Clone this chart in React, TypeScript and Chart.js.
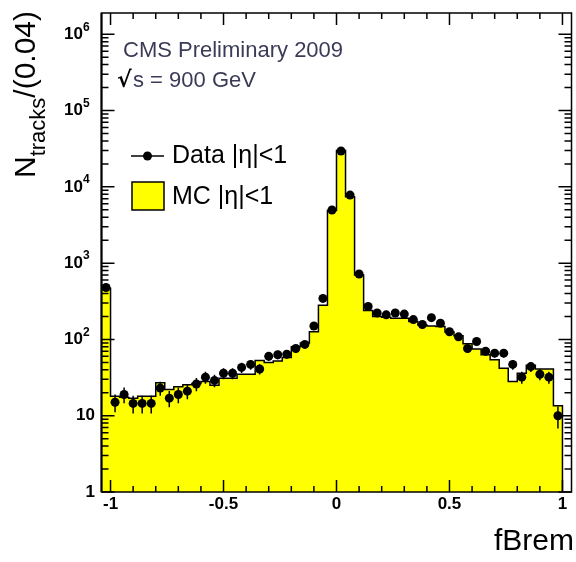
import React, { useEffect, useRef } from 'react';
import { Chart, registerables } from 'chart.js';

Chart.register(...registerables);

// ---- data ----
const binWidth = 0.04;
const binLowEdges = [
  -1.04, -1.0, -0.96, -0.92, -0.88, -0.84, -0.8, -0.76, -0.72, -0.68, -0.64, -0.6, -0.56,
  -0.52, -0.48, -0.44, -0.4, -0.36, -0.32, -0.28, -0.24, -0.2, -0.16, -0.12, -0.08, -0.04,
  0.0, 0.04, 0.08, 0.12, 0.16, 0.2, 0.24, 0.28, 0.32, 0.36, 0.4, 0.44, 0.48, 0.52, 0.56,
  0.6, 0.64, 0.68, 0.72, 0.76, 0.8, 0.84, 0.88, 0.92, 0.96, 1.0,
];
const mcCounts = [
  470, 18, 17.5, 17, 18, 18, 27, 22, 24, 25.5,
  26.5, 28, 25, 31, 31, 35, 35, 53, 50, 52,
  58, 80, 90, 126, 280, 4900, 30000, 7400, 700, 240,
  200, 195, 190, 190, 172, 155, 150, 148, 125, 112,
  88, 75, 63, 54, 42, 28, 36, 46, 41, 41,
  13.5, null,
];
const dataCounts = [
  480, 15, 19, 14.5, 14.5, 14.5, 23, 17, 19, 21,
  26, 32, 29, 36, 36, 43, 47, 41, 60, 63,
  64, 76, 86, 150, 345, 4970, 29500, 7800, 720, 270,
  222, 210, 222, 215, 182, 157, 193, 163, 126, 108,
  76, 94, 70, 66, 66, 47, 32, 44, 35, 32,
  10, null,
];
const dataErrors = [
  22, 3.9, 4.4, 3.8, 3.8, 3.8, 4.8, 4.1, 4.4, 4.6,
  5.1, 5.7, 5.4, 6, 6, 6.6, 6.9, 6.4, 7.7, 7.9,
  8, 8.7, 9.3, 12, 19, 70, 172, 88, 27, 16,
  15, 14.5, 15, 14.7, 13.5, 12.5, 13.9, 12.8, 11.2, 10.4,
  8.7, 9.7, 8.4, 8.1, 8.1, 6.9, 5.7, 6.6, 5.9, 5.7,
  3.2, null,
];
const xTickLabels = ['-1', '-0.5', '0', '0.5', '1'];
const xTickValues = [-1, -0.5, 0, 0.5, 1];
const yDecades = [0, 1, 2, 3, 4, 5, 6];
const xMin = -1.04;
const xMax = 1.04;
const yMin = 1;
const yMax = 1.9e6;

const FONT = '"Liberation Sans", Arial, Helvetica, sans-serif';

const rootPlugin = {
  id: 'rootStyle',
  afterDatasetsDraw(chart: any) {
    const { ctx, chartArea: a, scales } = chart;
    const x = scales.x;
    const y = scales.y;
    ctx.save();
    ctx.beginPath();
    ctx.rect(a.left, a.top, a.right - a.left, a.bottom - a.top);
    ctx.clip();
    ctx.strokeStyle = '#000';
    ctx.lineWidth = 1.5;
    dataCounts.forEach((v, i) => {
      if (v == null) return;
      const e = dataErrors[i] as number;
      const cx = x.getPixelForValue(binLowEdges[i] + binWidth / 2);
      const lo = Math.max(v - e, 0.01);
      ctx.beginPath();
      ctx.moveTo(cx, y.getPixelForValue(lo));
      ctx.lineTo(cx, y.getPixelForValue(v + e));
      ctx.stroke();
    });
    ctx.restore();
  },
  afterDraw(chart: any) {
    const { ctx, chartArea: a, scales } = chart;
    const x = scales.x;
    const y = scales.y;
    ctx.save();
    ctx.strokeStyle = '#000';
    ctx.lineWidth = 1.5;
    // frame
    ctx.strokeRect(a.left, a.top, a.right - a.left, a.bottom - a.top);
    ctx.lineWidth = 2;
    ctx.beginPath();
    ctx.moveTo(a.left, a.top);
    ctx.lineTo(a.left, a.bottom);
    ctx.stroke();
    ctx.lineWidth = 1.5;
    // x ticks
    for (let k = -10; k <= 10; k++) {
      const v = k / 10;
      const px = x.getPixelForValue(v);
      const major = k % 5 === 0;
      const len = major ? 12 : 6;
      ctx.beginPath();
      ctx.moveTo(px, a.bottom);
      ctx.lineTo(px, a.bottom - len);
      ctx.moveTo(px, a.top);
      ctx.lineTo(px, a.top + len);
      ctx.stroke();
    }
    // y ticks
    for (const d of yDecades) {
      for (let m = 1; m <= 9; m++) {
        const v = m * Math.pow(10, d);
        if (v > yMax || v < yMin) continue;
        const py = y.getPixelForValue(v);
        const len = m === 1 ? 13 : 7;
        ctx.beginPath();
        ctx.moveTo(a.left, py);
        ctx.lineTo(a.left + len, py);
        ctx.moveTo(a.right, py);
        ctx.lineTo(a.right - len, py);
        ctx.stroke();
      }
    }
    // x tick labels
    ctx.fillStyle = '#000';
    ctx.font = `bold 17px ${FONT}`;
    ctx.textAlign = 'center';
    ctx.textBaseline = 'alphabetic';
    xTickValues.forEach((v, i) => {
      ctx.fillText(xTickLabels[i], x.getPixelForValue(v), 509);
    });
    // y tick labels
    yDecades.forEach((d) => {
      const py = y.getPixelForValue(Math.pow(10, d));
      ctx.textBaseline = 'middle';
      if (d === 0) {
        ctx.font = `bold 17px ${FONT}`;
        ctx.textAlign = 'right';
        ctx.fillText('1', 95, py);
      } else if (d === 1) {
        ctx.font = `bold 17px ${FONT}`;
        ctx.textAlign = 'right';
        ctx.fillText('10', 95, py);
      } else {
        ctx.font = `bold 12px ${FONT}`;
        ctx.textAlign = 'left';
        ctx.fillText(String(d), 83, py - 7);
        ctx.font = `bold 17px ${FONT}`;
        ctx.textAlign = 'right';
        ctx.fillText('10', 83, py);
      }
    });
    // axis titles
    ctx.textBaseline = 'alphabetic';
    ctx.textAlign = 'right';
    ctx.font = `30px ${FONT}`;
    ctx.fillText('fBrem', 574, 550);

    ctx.save();
    ctx.translate(35, 178);
    ctx.rotate(-Math.PI / 2);
    ctx.textAlign = 'left';
    ctx.font = `30px ${FONT}`;
    ctx.fillText('N', 0, 0);
    let off = ctx.measureText('N').width;
    ctx.font = `22px ${FONT}`;
    ctx.fillText('tracks', off, 10);
    off += ctx.measureText('tracks').width;
    ctx.font = `30px ${FONT}`;
    ctx.fillText('/(0.04)', off, 0);
    ctx.restore();

    // CMS text
    ctx.textAlign = 'left';
    ctx.fillStyle = '#3b3b58';
    ctx.font = `22px ${FONT}`;
    ctx.fillText('CMS Preliminary 2009', 123, 57);
    ctx.fillStyle = '#000';
    ctx.font = `bold 22px "DejaVu Sans", ${FONT}`;
    ctx.fillText('\u221A', 117, 87);
    ctx.fillStyle = '#3b3b58';
    ctx.font = `22px ${FONT}`;
    ctx.fillText('s = 900 GeV', 133, 87);

    // legend
    ctx.fillStyle = '#000';
    ctx.strokeStyle = '#000';
    ctx.lineWidth = 1.5;
    ctx.beginPath();
    ctx.moveTo(131, 156);
    ctx.lineTo(164, 156);
    ctx.stroke();
    ctx.beginPath();
    ctx.arc(147.5, 156, 4.5, 0, Math.PI * 2);
    ctx.fill();
    ctx.font = `25px ${FONT}`;
    ctx.fillText('Data |\u03B7|<1', 172, 163);
    ctx.fillStyle = '#ffff00';
    ctx.fillRect(132, 182, 32, 28);
    ctx.strokeRect(132, 182, 32, 28);
    ctx.fillStyle = '#000';
    ctx.fillText('MC |\u03B7|<1', 172, 204);

    ctx.restore();
  },
};

export default function App() {
  const ref = useRef<HTMLCanvasElement | null>(null);
  useEffect(() => {
    if (!ref.current) return;
    const mcPoints: { x: number; y: number }[] = [];
    mcCounts.forEach((v, i) => {
      if (v != null) mcPoints.push({ x: binLowEdges[i], y: v });
    });
    mcPoints.push({ x: 1.0, y: 0.1 });
    const dataPoints: { x: number; y: number }[] = [];
    dataCounts.forEach((v, i) => {
      if (v != null) dataPoints.push({ x: binLowEdges[i] + binWidth / 2, y: v });
    });
    const chart = new Chart(ref.current, {
      type: 'line',
      data: {
        datasets: [
          {
            label: 'Data |η|<1',
            data: dataPoints,
            showLine: false,
            pointRadius: 4.5,
            pointBackgroundColor: '#000',
            pointBorderWidth: 0,
            order: 0,
          } as any,
          {
            label: 'MC |η|<1',
            data: mcPoints,
            stepped: 'before',
            borderColor: '#000',
            borderWidth: 1.5,
            backgroundColor: '#ffff00',
            fill: 'start',
            pointRadius: 0,
            order: 1,
          } as any,
        ],
      },
      options: {
        responsive: false,
        animation: false,
        layout: { padding: { top: 13, right: 2.5, left: 0, bottom: 0 } },
        plugins: { legend: { display: false }, tooltip: { enabled: false } },
        scales: {
          x: {
            type: 'linear',
            min: xMin,
            max: xMax,
            grid: { display: false },
            border: { display: false },
            ticks: { display: false },
            afterFit: (s: any) => {
              s.height = 70;
            },
          },
          y: {
            type: 'logarithmic',
            min: yMin,
            max: yMax,
            grid: { display: false },
            border: { display: false },
            ticks: { display: false },
            afterFit: (s: any) => {
              s.width = 101.5;
            },
          },
        },
      },
      plugins: [rootPlugin],
    });
    return () => chart.destroy();
  }, []);
  return (
    <div style={{ position: 'fixed', left: 0, top: 0, width: 576, height: 562, background: '#fff' }}>
      <canvas ref={ref} width={576} height={562} style={{ width: 576, height: 562 }} />
    </div>
  );
}
